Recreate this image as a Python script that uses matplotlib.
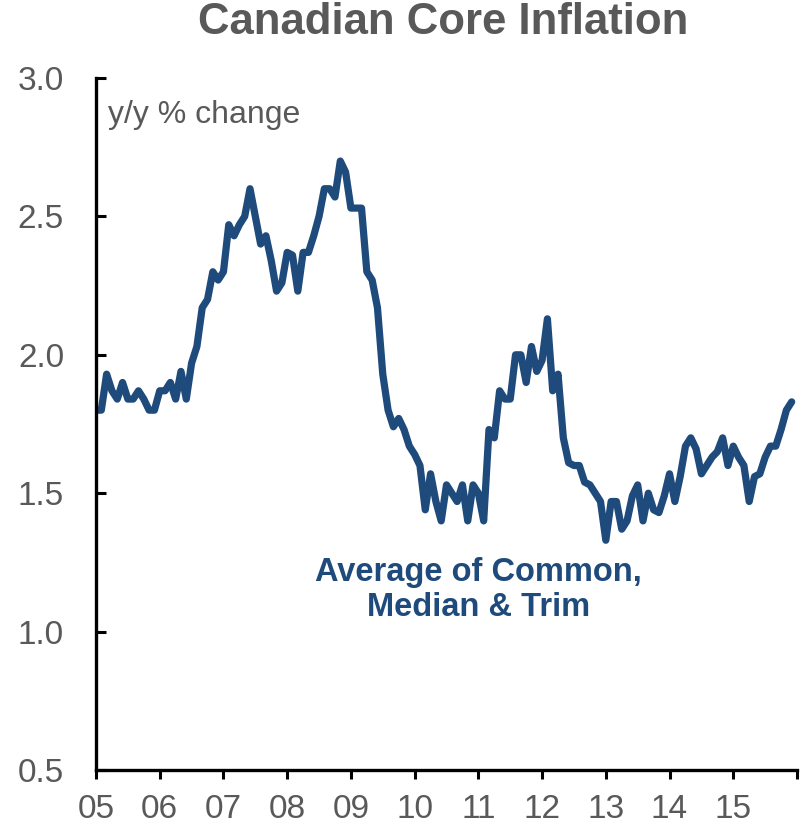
import numpy as np
import matplotlib.pyplot as plt

plt.rcParams['font.family'] = ['Liberation Sans', 'DejaVu Sans']

# monthly y/y % change, Jan 2005 .. Dec 2015
v05 = [1.80, 1.80, 1.93, 1.87, 1.84, 1.90, 1.84, 1.84, 1.87, 1.84, 1.80, 1.80]
v06 = [1.87, 1.87, 1.90, 1.84, 1.94, 1.84, 1.97, 2.03, 2.17, 2.20, 2.30, 2.27]
v07 = [2.30, 2.47, 2.43, 2.47, 2.50, 2.60, 2.50, 2.40, 2.43, 2.34, 2.23, 2.26]
v08 = [2.37, 2.36, 2.23, 2.37, 2.37, 2.43, 2.50, 2.60, 2.60, 2.57, 2.70, 2.66]
v09 = [2.53, 2.53, 2.53, 2.30, 2.27, 2.17, 1.93, 1.80, 1.74, 1.77, 1.73, 1.67]
v10 = [1.64, 1.60, 1.44, 1.57, 1.47, 1.40, 1.53, 1.50, 1.47, 1.53, 1.40, 1.53]
v11 = [1.50, 1.40, 1.73, 1.70, 1.87, 1.84, 1.84, 2.00, 2.00, 1.90, 2.03, 1.94]
v12 = [1.98, 2.13, 1.87, 1.93, 1.70, 1.61, 1.60, 1.60, 1.54, 1.53, 1.50, 1.47]
v13 = [1.33, 1.47, 1.47, 1.37, 1.40, 1.49, 1.53, 1.40, 1.50, 1.44, 1.43, 1.49]
v14 = [1.57, 1.47, 1.56, 1.67, 1.70, 1.66, 1.57, 1.60, 1.63, 1.65, 1.70, 1.60]
v15 = [1.67, 1.63, 1.60, 1.47, 1.56, 1.57, 1.63, 1.67, 1.67, 1.73, 1.80, 1.83]
values = v05 + v06 + v07 + v08 + v09 + v10 + v11 + v12 + v13 + v14 + v15
years = ['05', '06', '07', '08', '09', '10', '11', '12', '13', '14', '15']

x = 2005 + np.arange(len(values)) / 12.0
blue = '#1f4a7c'
gray = '#595959'

fig = plt.figure(figsize=(8.08, 8.36), dpi=100)
ax = fig.add_axes([96/808, 1-770/836, 701/808, 692/836])
ax.plot(x, values, color=blue, lw=5.2, solid_joinstyle='round', solid_capstyle='round')

ax.set_xlim(2005, 2016 - 1/12.0 + 0.005)
ax.set_ylim(0.5, 3.0)
ax.set_xticks(np.arange(2005, 2017))
ax.set_xticklabels(years + [''])
ax.set_yticks([0.5, 1.0, 1.5, 2.0, 2.5, 3.0])
ax.set_yticklabels(['0.5', '1.0', '1.5', '2.0', '2.5', '3.0'])
for s in ['top', 'right']:
    ax.spines[s].set_visible(False)
for s in ['left', 'bottom']:
    ax.spines[s].set_linewidth(2.4)
    ax.spines[s].set_color('black')
ax.tick_params(axis='x', direction='out', length=6.5, width=2.2, labelsize=24, labelcolor=gray, pad=11)
ax.tick_params(axis='y', direction='in', length=7, width=2.2, labelsize=24, labelcolor=gray, pad=23)

fig.text(443/808, 1-23/836, 'Canadian Core Inflation', ha='center', va='center',
         fontsize=31.5, fontweight='bold', color=gray)
ax.text(0.017, 0.946, 'y/y % change', transform=ax.transAxes, ha='left', va='center',
        fontsize=23, color=gray)
ax.text(2011.0, 1.15, 'Average of Common,\nMedian & Trim', ha='center', va='center',
        fontsize=23.5, fontweight='bold', color=blue, linespacing=1.15)

fig.savefig('out.png', dpi=100)
